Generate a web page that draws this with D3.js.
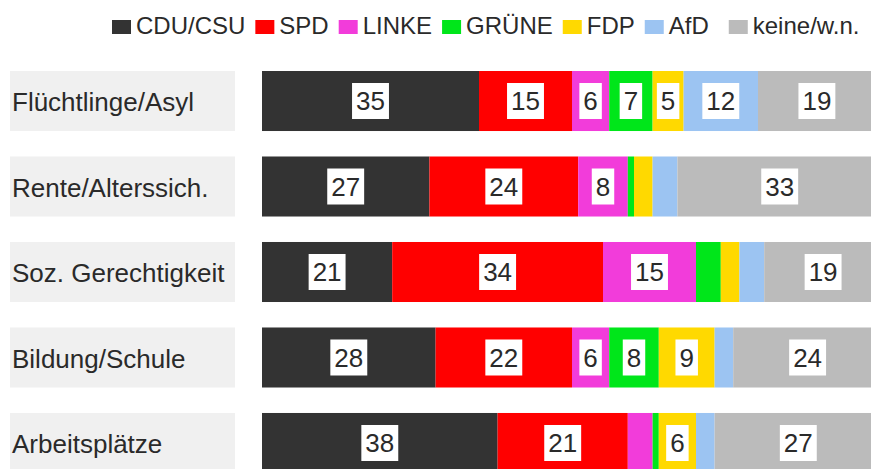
<!doctype html>
<html>
<head>
    <meta charset="utf-8">
    <title>Wahlkompetenz nach Themen</title>
    <script src="https://d3js.org/d3.v7.min.js"></script>
    <style>
        body { margin: 0; background: #fff; }
        svg { font-family: "Liberation Sans", Arial, sans-serif; display: block; }
    </style>
</head>
<body>
    <svg width="871" height="469"></svg>
    <script>
        // data
        var categories = ["Flüchtlinge/Asyl", "Rente/Alterssich.", "Soz. Gerechtigkeit", "Bildung/Schule", "Arbeitsplätze"];
        var parties = ["CDU/CSU", "SPD", "LINKE", "GRÜNE", "FDP", "AfD", "keine/w.n."];
        var cdu    = [35, 27, 21, 28, 38];
        var spd    = [15, 24, 34, 22, 21];
        var linke  = [6, 8, 15, 6, 4];
        var gruene = [7, 1, 4, 8, 1];
        var fdp    = [5, 3, 3, 9, 6];
        var afd    = [12, 4, 4, 3, 3];
        var keine  = [19, 33, 19, 24, 27];

        var colors = ["#333333", "#ff0000", "#f23cda", "#00e61a", "#ffd900", "#9cc4f2", "#bbbbbb"];

        var series = [cdu, spd, linke, gruene, fdp, afd, keine];
        var rows = categories.map(function (c, i) {
            var r = { cat: c };
            parties.forEach(function (p, j) { r[p] = series[j][i]; });
            return r;
        });

        var svg = d3.select("svg");

        var x = d3.scaleLinear().domain([0, 100]).range([262, 882]);
        var y = d3.scaleBand().domain(categories).range([71, 473]).paddingInner(0.298);
        var color = d3.scaleOrdinal().domain(parties).range(colors);

        var stack = d3.stack().keys(parties)(rows);

        // category labels
        var lab = svg.append("g");
        lab.selectAll("rect")
            .data(categories)
            .enter().append("rect")
            .attr("x", 10)
            .attr("y", function (d) { return y(d); })
            .attr("width", 225)
            .attr("height", y.bandwidth())
            .attr("fill", "#f0f0f0");
        lab.selectAll("text")
            .data(categories)
            .enter().append("text")
            .attr("x", 12)
            .attr("y", function (d) { return y(d) + y.bandwidth() / 2 + 1; })
            .attr("dy", "0.36em")
            .attr("font-size", "26px")
            .attr("fill", "#2a2a2a")
            .text(function (d) { return d; });

        // bars
        var layer = svg.append("g").selectAll("g")
            .data(stack)
            .enter().append("g")
            .attr("fill", function (d) { return color(d.key); });

        layer.selectAll("rect")
            .data(function (d) { return d; })
            .enter().append("rect")
            .attr("x", function (d) { return x(d[0]); })
            .attr("y", function (d) { return y(d.data.cat); })
            .attr("width", function (d) { return x(d[1]) - x(d[0]); })
            .attr("height", y.bandwidth());

        // value labels (only for 5 and up)
        var vals = svg.append("g");
        stack.forEach(function (s) {
            s.forEach(function (d) {
                var v = d[1] - d[0];
                if (v < 5) return;
                var cx = (x(d[0]) + x(d[1])) / 2,
                    cy = y(d.data.cat) + y.bandwidth() / 2;
                var g = vals.append("g");
                var bg = g.append("rect").attr("fill", "#fff");
                var t = g.append("text")
                    .attr("x", cx)
                    .attr("y", cy)
                    .attr("dy", "0.36em")
                    .attr("text-anchor", "middle")
                    .attr("font-size", "26px")
                    .attr("fill", "#2a2a2a")
                    .text(v);
                var w = t.node().getComputedTextLength() + 8;
                bg.attr("x", cx - w / 2).attr("y", cy - 18)
                    .attr("width", w).attr("height", 36);
            });
        });

        // legend
        var legend = svg.append("g");
        var lx = 112;
        parties.forEach(function (p, i) {
            legend.append("rect")
                .attr("x", lx)
                .attr("y", 20)
                .attr("width", 19)
                .attr("height", 14)
                .attr("fill", colors[i]);
            var t = legend.append("text")
                .attr("x", lx + 24)
                .attr("y", 34)
                .attr("font-size", "24px")
                .attr("fill", "#2a2a2a")
                .text(p);
            lx += 24 + t.node().getComputedTextLength() + (i == 5 ? 20 : 10);
        });
    </script>
</body>
</html>
